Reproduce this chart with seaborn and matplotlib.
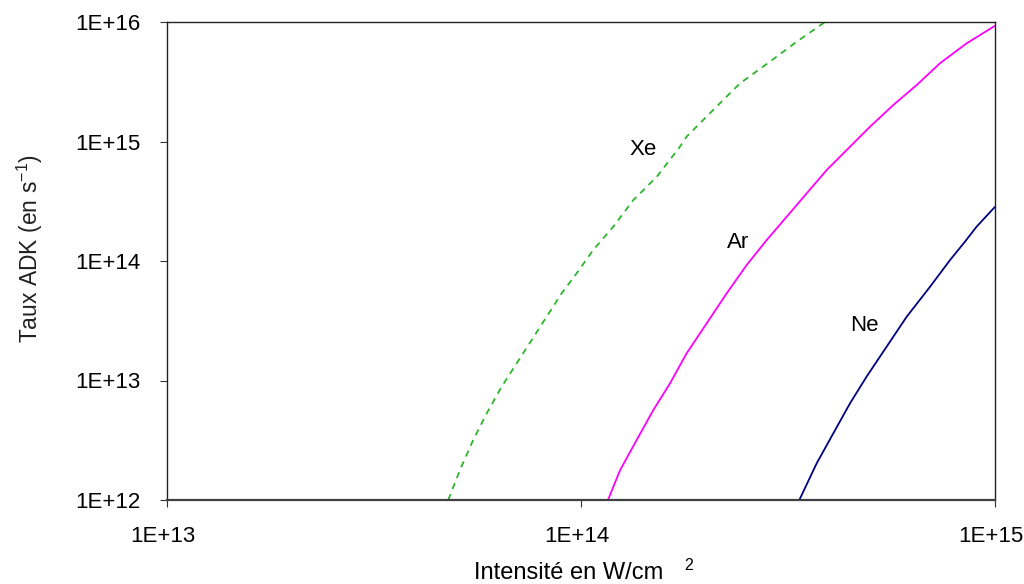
import numpy as np
import pandas as pd
import matplotlib
matplotlib.use("Agg")
import matplotlib.pyplot as plt
import matplotlib.transforms as mtransforms
import seaborn as sns
from matplotlib.ticker import NullLocator

# ADK ionisation rates versus laser intensity (W/cm^2 -> s^-1)
xe_intensity = [4.78e13, 5.10e13, 5.49e13, 5.92e13, 6.43e13, 6.99e13, 7.60e13, 8.26e13,
                8.98e13, 9.76e13, 1.071e14, 1.197e14, 1.338e14, 1.524e14, 1.734e14,
                1.800e14, 2.087e14, 2.422e14, 2.861e14, 3.319e14, 3.885e14]
xe_rate = [1.0e12, 1.78e12, 3.18e12, 5.32e12, 8.87e12, 1.39e13, 2.18e13, 3.42e13,
           5.37e13, 7.89e13, 1.24e14, 1.94e14, 3.24e14, 5.07e14, 9.05e14,
           1.10e15, 1.84e15, 3.07e15, 4.66e15, 6.84e15, 1.0e16]

ar_intensity = [1.162e14, 1.243e14, 1.363e14, 1.495e14, 1.641e14, 1.800e14, 2.012e14,
                2.249e14, 2.513e14, 2.810e14, 3.141e14, 3.510e14, 3.923e14, 4.384e14,
                4.990e14, 5.68e14, 6.47e14, 7.36e14, 8.54e14, 1.0e15]
ar_rate = [1.0e12, 1.78e12, 3.18e12, 5.66e12, 9.48e12, 1.69e13, 3.01e13,
           5.37e13, 9.26e13, 1.50e14, 2.35e14, 3.69e14, 5.78e14, 8.49e14,
           1.33e15, 2.02e15, 2.97e15, 4.51e15, 6.63e15, 9.3e15]

ne_intensity = [3.368e14, 3.710e14, 4.068e14, 4.465e14, 4.898e14, 5.474e14, 6.12e14,
                6.97e14, 7.79e14, 8.46e14, 9.03e14, 1.0e15]
ne_rate = [1.0e12, 2.03e12, 3.61e12, 6.44e12, 1.08e13, 1.92e13, 3.42e13,
           6.10e13, 1.02e14, 1.45e14, 1.94e14, 2.84e14]

gas_labels = ["Xe", "Ar", "Ne"]
label_pos_x = [1.41e14, 2.39e14, 4.83e14]
label_pos_y = [8.5e14, 1.44e14, 2.91e13]

x_ticks = [1e13, 1e14, 1e15]
x_tick_labels = ["1E+13", "1E+14", "1E+15"]
y_ticks = [1e12, 1e13, 1e14, 1e15, 1e16]
y_tick_labels = ["1E+12", "1E+13", "1E+14", "1E+15", "1E+16"]

sns.set_style("white")
plt.rcParams["font.family"] = ["Liberation Sans", "DejaVu Sans"]
plt.rcParams["mathtext.default"] = "regular"

fig = plt.figure(figsize=(10.24, 5.84), dpi=100)
ax = fig.add_axes([167 / 1024, 1 - 500 / 584, 828 / 1024, 478 / 584])

series = [
    (xe_intensity, xe_rate, "#2cb52c", (0, (3.5, 3))),
    (ar_intensity, ar_rate, "#ff00ff", "-"),
    (ne_intensity, ne_rate, "#000080", "-"),
]
for xs, ys, col, ls in series:
    df = pd.DataFrame({"I": xs, "rate": ys})
    sns.lineplot(data=df, x="I", y="rate", ax=ax, color=col, linewidth=1.3,
                 sort=False, estimator=None, linestyle=ls)

ax.set_xscale("log")
ax.set_yscale("log")
ax.set_xlim(1e13, 1e15)
ax.set_ylim(1e12, 1e16)
ax.set_xticks(x_ticks)
ax.set_xticklabels(x_tick_labels)
ax.set_yticks(y_ticks)
ax.set_yticklabels(y_tick_labels)
ax.xaxis.set_minor_locator(NullLocator())
ax.yaxis.set_minor_locator(NullLocator())
ax.tick_params(axis="both", which="major", direction="out", length=5, width=0.8,
               color="#333333", labelsize=16, labelcolor="black", pad=14,
               bottom=True, left=True)
ax.set_xlabel("")
ax.set_ylabel("")

# nudge x tick labels slightly to the left
shift = mtransforms.ScaledTranslation(-4 / 100, 0, fig.dpi_scale_trans)
for lbl in ax.get_xticklabels():
    lbl.set_transform(lbl.get_transform() + shift)

for side in ["left", "right", "top"]:
    ax.spines[side].set_color("#222222")
    ax.spines[side].set_linewidth(1.0)
ax.spines["bottom"].set_color("#404040")
ax.spines["bottom"].set_linewidth(1.6)

for txt, lx, ly in zip(gas_labels, label_pos_x, label_pos_y):
    ax.text(lx, ly, txt, fontsize=16, ha="center", va="center", color="black")

fig.text(569 / 1024, 1 - 573 / 584, "Intensité en W/cm", fontsize=17,
         ha="center", va="center", color="black")
fig.text(689 / 1024, 1 - 565 / 584, "2", fontsize=11.5, ha="center", va="center",
         color="black")
fig.text(30 / 1024, 1 - 249 / 584, r"Taux ADK (en s$^{-1}$)", fontsize=16.5,
         rotation=90, ha="center", va="center", color="#222222")

fig.savefig("out.png", dpi=100)
